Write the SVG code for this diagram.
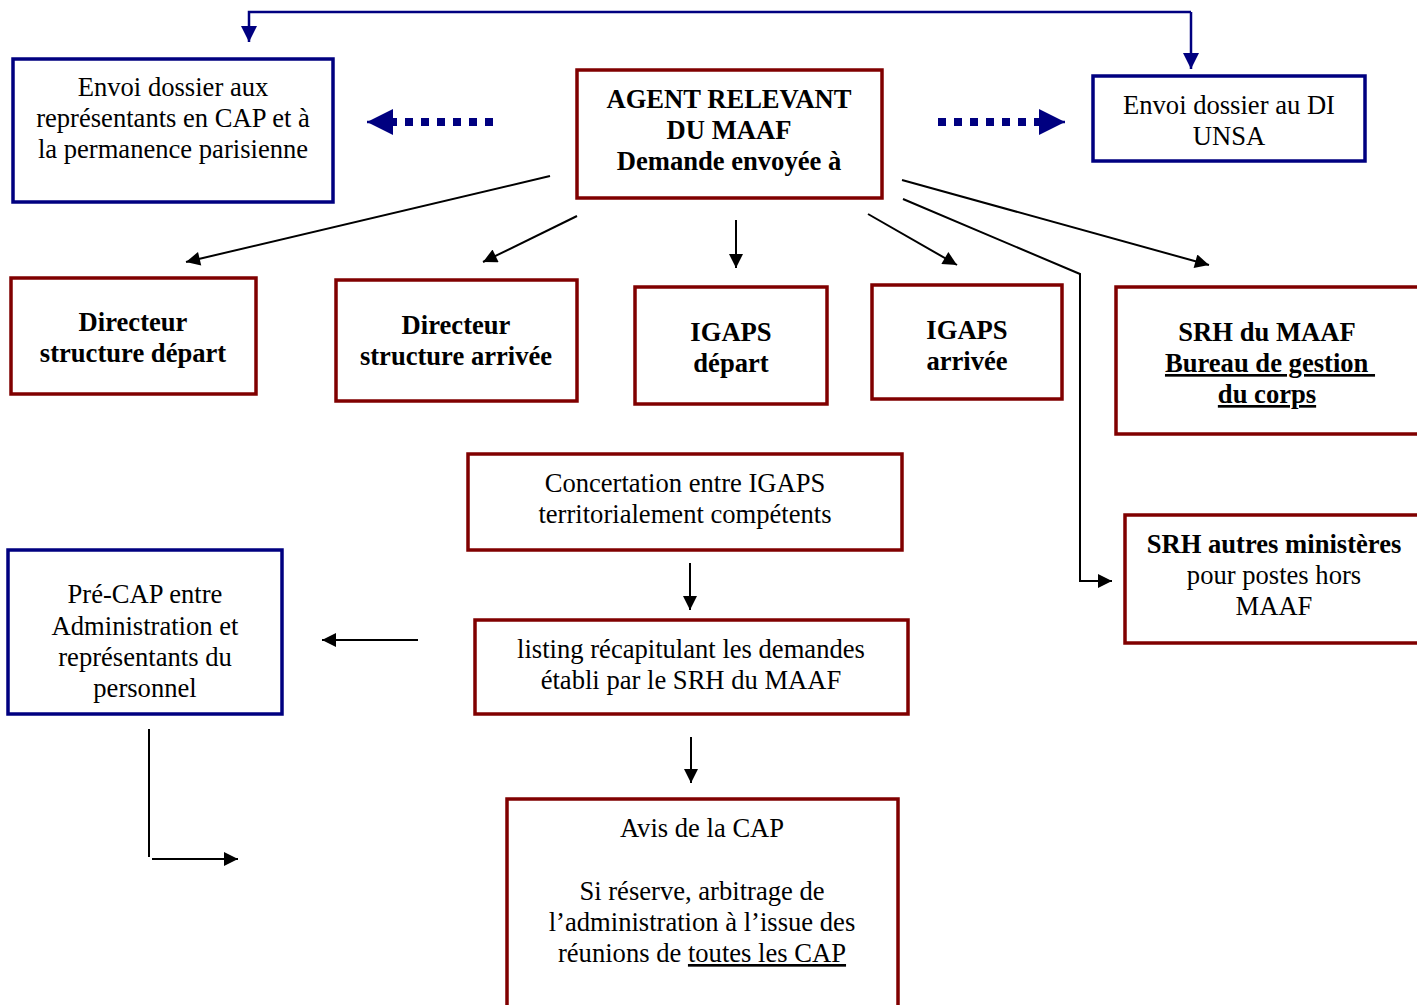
<svg xmlns="http://www.w3.org/2000/svg" width="1417" height="1005" viewBox="0 0 1417 1005">
<defs>
<style>
.t{font-family:"Liberation Serif","Times New Roman",serif;font-size:26.6px;fill:#000;text-anchor:middle}
.b{font-weight:bold}
.u{text-decoration:underline}
.red{fill:#fff;stroke:#800000;stroke-width:3.5}
.blue{fill:#fff;stroke:#000080;stroke-width:3.5}
.k{stroke:#000;stroke-width:2;fill:none}
.n{stroke:#000080;stroke-width:2.5;fill:none}
.dot{stroke:#000080;stroke-width:8;stroke-dasharray:8,8;fill:none}
</style>
<marker id="ak" viewBox="0 0 10 10" refX="10" refY="5" markerWidth="16" markerHeight="14" markerUnits="userSpaceOnUse" orient="auto"><path d="M0,0L10,5L0,10z" fill="#000"/></marker>
<marker id="an" viewBox="0 0 10 10" refX="10" refY="5" markerWidth="17" markerHeight="16" markerUnits="userSpaceOnUse" orient="auto"><path d="M0,0L10,5L0,10z" fill="#000080"/></marker>
<marker id="ad" viewBox="0 0 10 10" refX="10" refY="5" markerWidth="28" markerHeight="26" markerUnits="userSpaceOnUse" orient="auto"><path d="M0,0L10,5L0,10z" fill="#000080"/></marker>
</defs>
<g id="connectors">
<polyline class="n" points="1191,12 249,12 249,42" marker-end="url(#an)"/>
<line class="n" x1="1191" y1="12" x2="1191" y2="69" marker-end="url(#an)"/>
<line class="dot" x1="493" y1="122" x2="392" y2="122"/>
<line class="n" x1="395" y1="122" x2="367" y2="122" marker-end="url(#ad)"/>
<line class="dot" x1="938" y1="122" x2="1040" y2="122"/>
<line class="n" x1="1038" y1="122" x2="1065" y2="122" marker-end="url(#ad)"/>
<line class="k" x1="550" y1="176" x2="186" y2="262" marker-end="url(#ak)"/>
<line class="k" x1="577" y1="216" x2="483" y2="262" marker-end="url(#ak)"/>
<line class="k" x1="736" y1="220" x2="736" y2="268" marker-end="url(#ak)"/>
<line class="k" x1="868" y1="214" x2="957" y2="265" marker-end="url(#ak)"/>
<line class="k" x1="902" y1="180" x2="1209" y2="265" marker-end="url(#ak)"/>
<polyline class="k" points="903,199 1080,274 1080,581 1112,581" marker-end="url(#ak)"/>
<line class="k" x1="690" y1="563" x2="690" y2="610" marker-end="url(#ak)"/>
<line class="k" x1="418" y1="640" x2="322" y2="640" marker-end="url(#ak)"/>
<line class="k" x1="691" y1="737" x2="691" y2="783" marker-end="url(#ak)"/>
<line class="k" x1="149" y1="729" x2="149" y2="857"/>
<line class="k" x1="152" y1="859" x2="238" y2="859" marker-end="url(#ak)"/>
</g>
<g id="envoi-cap"><rect class="blue" x="13" y="59" width="320" height="143"/>
<text class="t" x="173" y="96">Envoi dossier aux</text>
<text class="t" x="173" y="127">représentants en CAP et à</text>
<text class="t" x="173" y="158">la permanence parisienne</text></g>
<g id="agent"><rect class="red" x="577" y="70" width="305" height="128"/>
<text class="t b" x="729" y="108">AGENT RELEVANT</text>
<text class="t b" x="729" y="139">DU MAAF</text>
<text class="t b" x="729" y="170">Demande envoyée à</text></g>
<g id="envoi-di"><rect class="blue" x="1093" y="76" width="272" height="85"/>
<text class="t" x="1229" y="114">Envoi dossier au DI</text>
<text class="t" x="1229" y="145">UNSA</text></g>
<g id="dir-depart"><rect class="red" x="11" y="278" width="245" height="116"/>
<text class="t b" x="133" y="331">Directeur</text>
<text class="t b" x="133" y="362">structure départ</text></g>
<g id="dir-arrivee"><rect class="red" x="336" y="280" width="241" height="121"/>
<text class="t b" x="456" y="334">Directeur</text>
<text class="t b" x="456" y="365">structure arrivée</text></g>
<g id="igaps-depart"><rect class="red" x="635" y="287" width="192" height="117"/>
<text class="t b" x="731" y="341">IGAPS</text>
<text class="t b" x="731" y="372">départ</text></g>
<g id="igaps-arrivee"><rect class="red" x="872" y="285" width="190" height="114"/>
<text class="t b" x="967" y="339">IGAPS</text>
<text class="t b" x="967" y="370">arrivée</text></g>
<g id="srh-maaf"><rect class="red" x="1116" y="287" width="305" height="147"/>
<text class="t b" x="1267" y="341">SRH du MAAF</text>
<text class="t b u" x="1270" y="372">Bureau de gestion&#160;</text>
<text class="t b u" x="1267" y="403">du corps</text></g>
<g id="concertation"><rect class="red" x="468" y="454" width="434" height="96"/>
<text class="t" x="685" y="492">Concertation entre IGAPS</text>
<text class="t" x="685" y="523">territorialement compétents</text></g>
<g id="srh-autres"><rect class="red" x="1125" y="515" width="296" height="128"/>
<text class="t b" x="1274" y="553">SRH autres ministères</text>
<text class="t" x="1274" y="584">pour postes hors</text>
<text class="t" x="1274" y="615">MAAF</text></g>
<g id="precap"><rect class="blue" x="8" y="550" width="274" height="164"/>
<text class="t" x="145" y="603">Pré-CAP entre</text>
<text class="t" x="145" y="635">Administration et</text>
<text class="t" x="145" y="666">représentants du</text>
<text class="t" x="145" y="697">personnel</text></g>
<g id="listing"><rect class="red" x="475" y="620" width="433" height="94"/>
<text class="t" x="691" y="658">listing récapitulant les demandes</text>
<text class="t" x="691" y="689">établi par le SRH du MAAF</text></g>
<g id="avis"><rect class="red" x="507" y="799" width="391" height="220"/>
<text class="t" x="702" y="837">Avis de la CAP</text>
<text class="t" x="702" y="900">Si réserve, arbitrage de</text>
<text class="t" x="702" y="931">l’administration à l’issue des</text>
<text class="t" x="702" y="962">réunions de <tspan class="u">toutes les CAP</tspan></text></g>
</svg>
